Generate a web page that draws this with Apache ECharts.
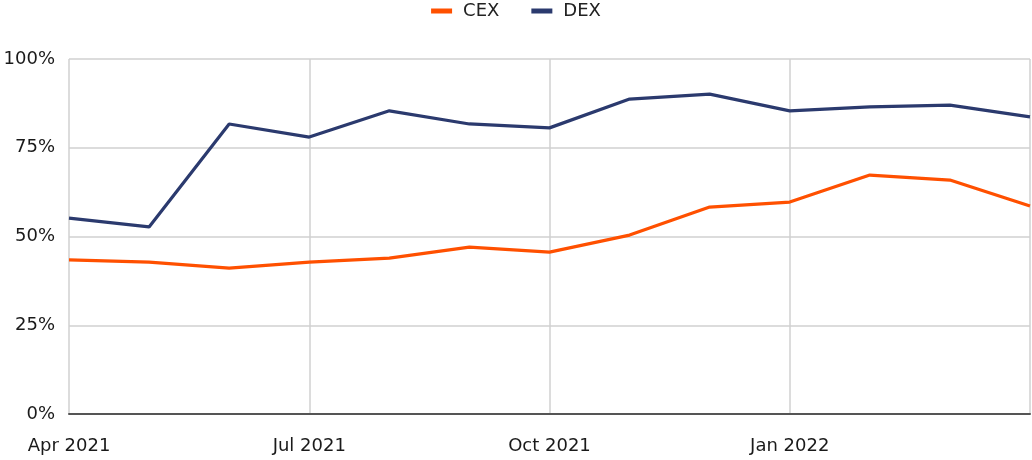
<!DOCTYPE html>
<html><head><meta charset="utf-8">
<script src="https://cdn.jsdelivr.net/npm/echarts@6/dist/echarts.min.js"></script>
<style>html,body{margin:0;padding:0;background:#fff}#c{width:1032px;height:460px}</style>
</head><body><div id="c"></div>
<script>
const categories = ["Apr 2021","May 2021","Jun 2021","Jul 2021","Aug 2021","Sep 2021","Oct 2021","Nov 2021","Dec 2021","Jan 2022","Feb 2022","Mar 2022","Apr 2022"];
const cexValues = [43.4, 42.8, 41.1, 42.8, 43.9, 47.0, 45.6, 50.4, 58.3, 59.7, 67.3, 65.9, 58.6];
const dexValues = [55.2, 52.7, 81.7, 78.0, 85.4, 81.7, 80.6, 88.7, 90.1, 85.4, 86.5, 87.0, 83.7];
const yTicks = [0, 25, 50, 75, 100];

const FONT = "DejaVu Sans";
const chart = echarts.init(document.getElementById('c'));
chart.setOption({
  animation: false,
  textStyle: {fontFamily: FONT},
  legend: {
    top: 0, left: 'center', padding: [2, 5, 5, 5],
    itemWidth: 21, itemHeight: 5, itemGap: 32,
    icon: 'rect',
    textStyle: {fontFamily: FONT, fontSize: 18, color: '#222', padding: [0,0,0,6]},
    data: ['CEX','DEX']
  },
  grid: {left: 69, right: 2, top: 59, bottom: 46, containLabel: false},
  xAxis: {
    type: 'category', boundaryGap: false, data: categories,
    axisLine: {show: true, lineStyle: {color: '#555', width: 2}},
    axisTick: {show: false},
    axisLabel: {
      interval: (i) => i % 3 === 0 && i < categories.length - 1,
      margin: 23, fontFamily: FONT, fontSize: 18, color: '#1a1a1a'
    },
    splitLine: {show: true, interval: (i) => i % 3 === 0, lineStyle: {color: '#d0d0d0', width: 1.5}}
  },
  yAxis: {
    type: 'value', min: yTicks[0], max: yTicks[yTicks.length-1], interval: 25,
    axisLine: {show: false}, axisTick: {show: false},
    axisLabel: {formatter: '{value}%', margin: 14, fontFamily: FONT, fontSize: 18, color: '#1a1a1a'},
    splitLine: {show: true, lineStyle: {color: '#d0d0d0', width: 1.5}}
  },
  series: [
    {name: 'CEX', type: 'line', data: cexValues, symbol: 'none', color: '#FF5000',
     lineStyle: {width: 3.2, color: '#FF5000'}},
    {name: 'DEX', type: 'line', data: dexValues, symbol: 'none', color: '#2B3A6E',
     lineStyle: {width: 3.2, color: '#2B3A6E'}}
  ]
});
</script></body></html>
